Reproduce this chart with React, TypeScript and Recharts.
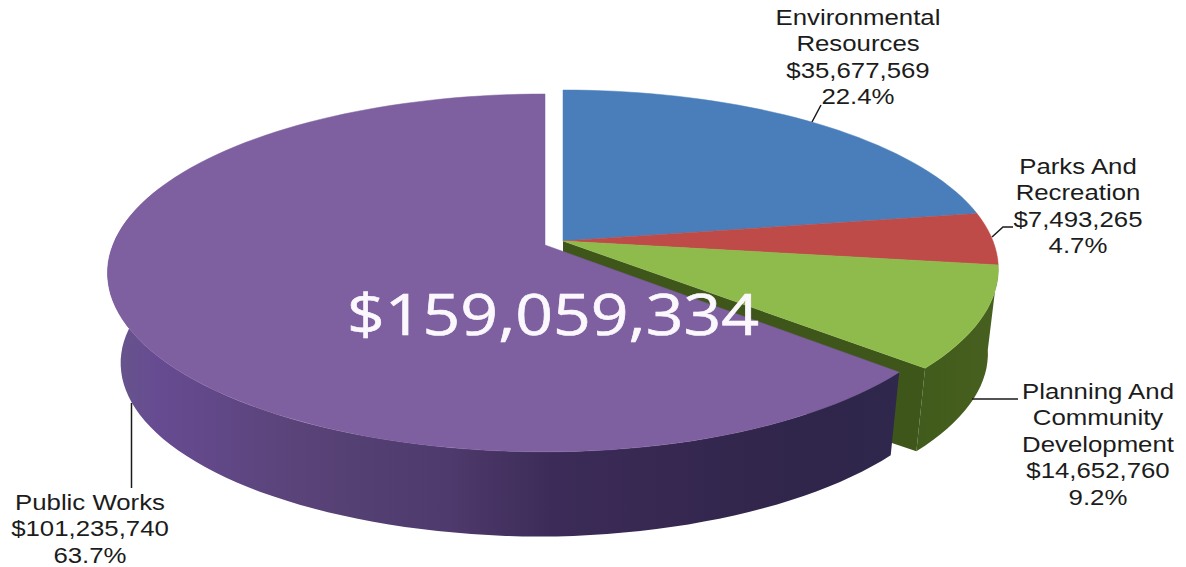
import React from 'react';
import { PieChart, Pie, Cell } from 'recharts';

const categories = ['Environmental Resources', 'Parks And Recreation', 'Planning And Community Development', 'Public Works'];
const amounts = [35677569, 7493265, 14652760, 101235740];
const percents = ['22.4%', '4.7%', '9.2%', '63.7%'];
const labelLines = [
  ['Environmental', 'Resources'],
  ['Parks And', 'Recreation'],
  ['Planning And', 'Community', 'Development'],
  ['Public Works'],
];
const totalLabel = '$159,059,334';

const topColors = ['#4a7ebb', '#be4b48', '#8fba4c', '#7e5f9f'];
const wallFills = [null, null, 'url(#greenWall)', 'url(#purpleWall)'];

// perspective look of the 3d pie
const TILT = 0.406;
const PERSP = 0.156;
const DEPTH = 91;
const WALL_SCALE = 0.97;

// explode offset per slice, label anchor + leader per slice
const explode = [[0, 0], [0, 0], [0, 0], [-18, 4]];
// horizontal stretch [left, right] of each slice's rim, the source pie is a bit lopsided
const rimStretch = [[1, 1], [1, 1], [1, 1], [1.005, 0.978]];
const labelPos = [
  { x: 858, y: 25 },
  { x: 1078, y: 174 },
  { x: 1098, y: 399 },
  { x: 90, y: 510 },
];
const leaders = [
  '812,122 821,105',
  '992,237 1003,227 1013,227',
  '972,399 1018,399',
  '131.5,403 131.5,488',
];

const chartData = categories.map((name, i) => ({ name, value: amounts[i] }));
const fmt = (n: number) => '$' + n.toLocaleString('en-US');

const project = (cx: number, cy: number, r: number, angle: number, slice: number, wall = false) => {
  const rad = (angle * Math.PI) / 180;
  const u = Math.cos(rad);
  const v = -Math.sin(rad);
  const w = 1 - PERSP * v;
  const dx = ((r * u) / w) * rimStretch[slice][u < 0 ? 0 : 1];
  const dy = (r * TILT * v) / w;
  if (wall) {
    // right side of the wall is a little shorter and less pulled in
    const sx = u > 0 ? WALL_SCALE + 0.006 : WALL_SCALE;
    const depth = u > 0 ? DEPTH * (1 - 0.06 * u) : DEPTH;
    return [cx + dx * sx, cy + dy * WALL_SCALE + depth];
  }
  return [cx + dx, cy + dy];
};

const arc = (cx: number, cy: number, r: number, from: number, to: number, slice: number, wall = false) => {
  const pts: number[][] = [];
  const n = Math.max(2, Math.ceil(Math.abs(to - from) / 2));
  for (let i = 0; i <= n; i++) pts.push(project(cx, cy, r, from + ((to - from) * i) / n, slice, wall));
  return pts;
};

const toPath = (pts: number[][]) => 'M' + pts.map((p) => p[0].toFixed(1) + ',' + p[1].toFixed(1)).join('L') + 'Z';

const Slice3D = (props: any) => {
  const { cx, cy, outerRadius, startAngle, endAngle, name } = props;
  const i = categories.indexOf(name);
  const x0 = cx + explode[i][0];
  const y0 = cy + explode[i][1];
  const r = outerRadius;
  const top = arc(x0, y0, r, startAngle, endAngle, i);
  const fill = wallFills[i];
  // only the part of the rim that faces the viewer gets a wall
  const wallEnd = Math.max(endAngle, -200);
  const rim = arc(x0, y0, r, startAngle, wallEnd, i);
  const rimBottom = arc(x0, y0, r, wallEnd, startAngle, i, true);
  const endTop = project(x0, y0, r, endAngle, i);
  const endBottom = project(x0, y0, r, endAngle, i, true);
  return (
    <g>
      {fill && <path d={toPath([...rim, ...rimBottom])} fill={fill} />}
      {i === 2 && (
        <path d={toPath([[x0, y0], endTop, endBottom, [x0, y0 + DEPTH]])} fill="#3f561b" />
      )}
      <path d={toPath([[x0, y0], ...top])} fill={topColors[i]} stroke={topColors[i]} strokeWidth={0.5} />
    </g>
  );
};

const renderLabel = (props: any) => {
  const { index } = props;
  const pos = labelPos[index];
  const lines = [...labelLines[index], fmt(amounts[index]), percents[index]];
  return (
    <g key={index}>
      <polyline points={leaders[index]} fill="none" stroke="#1a1a1a" strokeWidth={1.5} />
      <g transform={`translate(${pos.x} ${pos.y}) scale(1.2 1)`}>
        {lines.map((t, j) => (
          <text key={j} x={0} y={j * 26.4} textAnchor="middle" fontFamily="Liberation Sans" fontSize={21.5} fill="#1c1c1c" stroke="none">
            {t}
          </text>
        ))}
      </g>
      {/* total sits in the label layer so it stays above the slices */}
      {index === categories.length - 1 && (
        <g transform="translate(553 335) scale(1.18 1)">
          <text x={0} y={0} textAnchor="middle" fontFamily="Open Sans" fontSize={56} fill="#fbf8fd" stroke="#fbf8fd" strokeWidth={0.6}>
            {totalLabel}
          </text>
        </g>
      )}
    </g>
  );
};

export default function App() {
  return (
    <div style={{ position: 'absolute', left: 0, top: 0, width: 1186, height: 567, background: '#fff' }}>
      <PieChart width={1186} height={567} margin={{ top: 0, right: 0, bottom: 0, left: 0 }}>
        <defs>
          <linearGradient id="purpleWall" gradientUnits="userSpaceOnUse" x1="110" y1="0" x2="900" y2="0">
            <stop offset="0" stopColor="#66568a" />
            <stop offset="0.06" stopColor="#674b92" />
            <stop offset="0.24" stopColor="#594378" />
            <stop offset="0.43" stopColor="#4e3a6c" />
            <stop offset="0.56" stopColor="#3c2b58" />
            <stop offset="0.87" stopColor="#30254a" />
            <stop offset="1" stopColor="#2f274c" />
          </linearGradient>
          <linearGradient id="greenWall" gradientUnits="userSpaceOnUse" x1="900" y1="0" x2="1000" y2="0">
            <stop offset="0" stopColor="#3f5a1b" />
            <stop offset="1" stopColor="#48601f" />
          </linearGradient>
        </defs>
        <Pie
          data={chartData}
          dataKey="value"
          nameKey="name"
          cx={563}
          cy={241}
          innerRadius={0}
          outerRadius={430}
          startAngle={90}
          endAngle={-270}
          paddingAngle={0}
          stroke="none"
          shape={Slice3D}
          label={renderLabel}
          labelLine={false}
          isAnimationActive={false}
        >
          {chartData.map((d, i) => (
            <Cell key={d.name} fill={topColors[i]} />
          ))}
        </Pie>
      </PieChart>
    </div>
  );
}
